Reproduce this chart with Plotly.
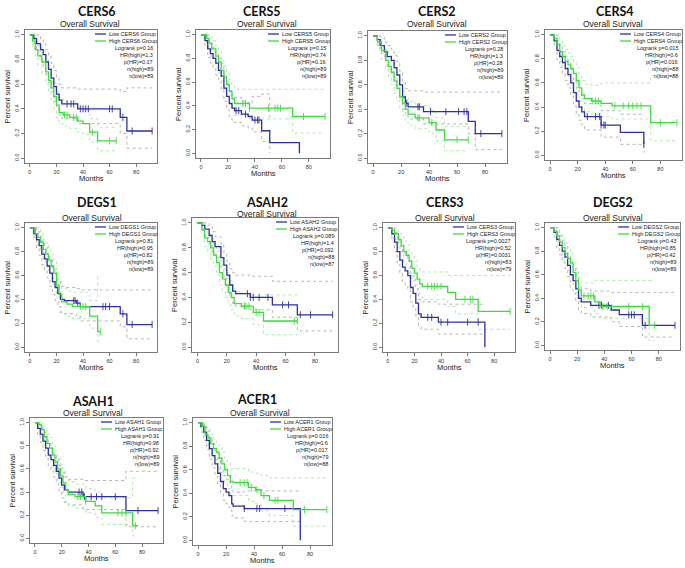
import plotly.graph_objects as go

# ---------------- data ----------------
GENES = ["CERS6", "CERS5", "CERS2", "CERS4", "DEGS1", "ASAH2", "CERS3", "DEGS2", "ASAH1", "ACER1"]
LOGRANK_P = ["0.16", "0.15", "0.28", "0.015", "0.81", "0.089", "0.0027", "0.43", "0.91", "0.016"]
HR_HIGH = ["1.3", "0.74", "1.3", "0.6", "0.95", "1.4", "0.52", "0.85", "0.98", "0.6"]
P_HR = ["0.17", "0.16", "0.28", "0.016", "0.82", "0.092", "0.0031", "0.42", "0.92", "0.017"]
N_HIGH = [89, 89, 89, 88, 89, 88, 83, 89, 89, 79]
N_LOW = [89, 89, 89, 88, 89, 87, 79, 89, 89, 88]
X_TICKS = [0, 20, 40, 60, 80]
Y_TICKS = [0.0, 0.2, 0.4, 0.6, 0.8, 1.0]
Y_TICK_TEXT = ["0.0", "0.2", "0.4", "0.6", "0.8", "1.0"]

# CERS6
CERS6_LOW_T = [0, 3, 5, 8, 10, 12, 14, 16, 18, 20, 22, 24, 36, 68, 73, 92]
CERS6_LOW_S = [1, .97, .93, .88, .84, .78, .72, .65, .58, .52, .47, .44, .40, .33, .22, .22]
CERS6_LOW_HI = [1, 1, 1, .96, .93, .88, .83, .77, .71, .65, .60, .57, .56, .54, .57, .57]
CERS6_LOW_LO = [1, .93, .87, .80, .75, .68, .61, .54, .46, .40, .35, .32, .28, .20, .08, .08]
CERS6_LOW_CENS = [28, 31, 33, 38, 40, 42, 44, 60, 62, 70, 77, 92]
CERS6_HIGH_T = [0, 2, 4, 6, 9, 12, 14, 16, 18, 20, 22, 25, 30, 36, 40, 45, 51, 65]
CERS6_HIGH_S = [1, .95, .88, .83, .78, .70, .63, .57, .50, .43, .37, .35, .33, .30, .28, .21, .14, .14]
CERS6_HIGH_HI = [1, 1, .95, .91, .87, .80, .74, .68, .61, .54, .48, .46, .44, .41, .39, .32, .25, .25]
CERS6_HIGH_LO = [1, .90, .81, .75, .69, .60, .53, .47, .40, .33, .28, .26, .24, .21, .19, .13, .06, .06]
CERS6_HIGH_CENS = [26, 28, 33, 35, 47, 60, 65]

# CERS5
CERS5_LOW_T = [0, 3, 5, 7, 9, 11, 13, 15, 17, 19, 21, 23, 25, 30, 35, 38, 45, 51, 73]
CERS5_LOW_S = [1, .95, .88, .84, .80, .76, .70, .65, .55, .48, .42, .38, .36, .33, .31, .28, .19, .09, 0]
CERS5_LOW_HI = [1, 1, .95, .92, .89, .85, .80, .76, .66, .59, .53, .49, .47, .44, .42, .48, .50, .30, None]
CERS5_LOW_LO = [1, .90, .81, .76, .71, .66, .60, .54, .44, .37, .31, .28, .26, .23, .21, .18, .10, 0.0, None]
CERS5_LOW_CENS = [26, 28, 33, 40, 42, 43]
CERS5_HIGH_T = [0, 4, 6, 8, 11, 13, 15, 17, 19, 21, 23, 25, 36, 68, 92]
CERS5_HIGH_S = [1, .97, .93, .88, .82, .77, .70, .64, .58, .52, .46, .42, .38, .31, .31]
CERS5_HIGH_HI = [1, 1, 1, .95, .90, .86, .79, .74, .68, .62, .57, .54, .54, .54, .54]
CERS5_HIGH_LO = [1, .93, .87, .81, .74, .68, .61, .54, .48, .42, .36, .32, .29, .17, .17]
CERS5_HIGH_CENS = [31, 33, 36, 50, 55, 57, 59, 76, 92]

# CERS2
CERS2_LOW_T = [0, 3, 5, 8, 10, 13, 15, 17, 19, 21, 23, 25, 36, 68, 73, 92]
CERS2_LOW_S = [1, .97, .92, .87, .83, .80, .74, .68, .60, .50, .45, .42, .38, .30, .20, .20]
CERS2_LOW_HI = [1, 1, .99, .95, .92, .89, .84, .79, .71, .62, .57, .55, .54, .54, .54, .54]
CERS2_LOW_LO = [1, .93, .86, .80, .75, .71, .65, .58, .50, .40, .35, .32, .28, .20, .07, .07]
CERS2_LOW_CENS = [24, 32, 33, 41, 52, 61, 65, 67, 77, 92]
CERS2_HIGH_T = [0, 3, 6, 9, 11, 13, 15, 17, 19, 21, 23, 25, 30, 40, 45, 51, 68]
CERS2_HIGH_S = [1, .95, .88, .80, .75, .70, .63, .57, .50, .45, .40, .36, .33, .29, .23, .15, .15]
CERS2_HIGH_HI = [1, 1, .95, .88, .84, .79, .73, .67, .60, .55, .50, .46, .43, .39, .33, .26, .26]
CERS2_HIGH_LO = [1, .90, .81, .72, .66, .60, .53, .47, .40, .35, .30, .27, .24, .20, .14, .06, .06]
CERS2_HIGH_CENS = [32, 33, 42, 60, 68]

# CERS4
CERS4_LOW_T = [0, 3, 5, 7, 9, 11, 13, 15, 17, 19, 21, 23, 25, 37, 51, 68]
CERS4_LOW_S = [1, .95, .87, .82, .77, .72, .67, .60, .52, .45, .40, .36, .32, .25, .19, .09]
CERS4_LOW_HI = [1, 1, .95, .91, .86, .82, .77, .71, .63, .56, .51, .47, .43, .37, .34, .33]
CERS4_LOW_LO = [1, .90, .79, .73, .67, .62, .56, .49, .41, .34, .29, .25, .21, .15, .09, .02]
CERS4_LOW_CENS = [27, 33, 36, 37, 39, 40, 68]
CERS4_HIGH_T = [0, 3, 5, 7, 9, 11, 13, 15, 17, 19, 21, 23, 25, 30, 37, 45, 73, 92]
CERS4_HIGH_S = [1, .97, .92, .86, .82, .78, .75, .72, .68, .62, .56, .50, .47, .45, .43, .41, .27, .27]
CERS4_HIGH_HI = [1, 1, 1, .95, .91, .88, .85, .82, .78, .73, .67, .62, .59, .58, .60, .60, .66, .66]
CERS4_HIGH_LO = [1, .93, .86, .78, .73, .68, .65, .62, .57, .51, .45, .39, .36, .34, .32, .30, .12, .12]
CERS4_HIGH_CENS = [31, 33, 35, 47, 53, 57, 60, 63, 66, 80, 92]

# DEGS1
DEGS1_LOW_T = [0, 3, 5, 7, 9, 11, 13, 15, 17, 19, 21, 23, 26, 35, 38, 68, 73, 92]
DEGS1_LOW_S = [1, .95, .90, .85, .78, .74, .68, .62, .55, .50, .45, .40, .39, .37, .34, .28, .19, .19]
DEGS1_LOW_HI = [1, 1, .97, .93, .87, .84, .78, .73, .66, .61, .56, .51, .50, .49, .48, .48, .48, .48]
DEGS1_LOW_LO = [1, .90, .83, .77, .69, .64, .58, .51, .44, .39, .34, .29, .28, .26, .22, .17, .07, .07]
DEGS1_LOW_CENS = [33, 34, 36, 55, 57, 60, 70, 77, 92]
DEGS1_HIGH_T = [0, 4, 6, 8, 10, 12, 14, 16, 18, 20, 22, 24, 28, 32, 45, 51, 53]
DEGS1_HIGH_S = [1, .95, .92, .88, .82, .78, .73, .68, .62, .52, .44, .38, .36, .34, .26, .13, .13]
DEGS1_HIGH_HI = [1, 1, 1, .95, .90, .87, .82, .78, .72, .62, .55, .49, .47, .46, .39, .60, .60]
DEGS1_HIGH_LO = [1, .91, .86, .81, .74, .69, .64, .58, .52, .42, .34, .28, .26, .24, .16, .05, .05]
DEGS1_HIGH_CENS = [38, 40, 42, 53]

# ASAH2
ASAH2_LOW_T = [0, 3, 5, 8, 10, 12, 16, 18, 20, 22, 24, 26, 36, 51, 68, 92]
ASAH2_LOW_S = [1, .98, .95, .90, .85, .81, .72, .66, .58, .50, .45, .43, .40, .34, .26, .26]
ASAH2_LOW_HI = [1, 1, 1, .97, .93, .89, .82, .76, .69, .63, .60, .58, .57, .53, .53, .53]
ASAH2_LOW_LO = [1, .94, .90, .83, .77, .72, .63, .56, .48, .40, .35, .33, .30, .24, .13, .13]
ASAH2_LOW_CENS = [34, 36, 38, 42, 48, 58, 62, 70, 77, 92]
ASAH2_HIGH_T = [0, 3, 5, 7, 9, 11, 13, 15, 17, 19, 21, 23, 25, 30, 38, 45, 68]
ASAH2_HIGH_S = [1, .95, .88, .85, .80, .74, .68, .60, .55, .50, .44, .40, .35, .33, .28, .21, .21]
ASAH2_HIGH_HI = [1, 1, .95, .92, .88, .83, .77, .70, .65, .60, .54, .50, .45, .43, .40, .42, .42]
ASAH2_HIGH_LO = [1, .90, .81, .77, .71, .65, .58, .50, .45, .40, .34, .30, .25, .23, .18, .10, .10]
ASAH2_HIGH_CENS = [32, 33, 35, 40, 42, 66, 68]

# CERS3
CERS3_LOW_T = [0, 3, 5, 7, 9, 11, 13, 15, 17, 19, 21, 23, 25, 38, 73]
CERS3_LOW_S = [1, .95, .88, .80, .73, .67, .64, .60, .50, .45, .37, .28, .25, .21, 0]
CERS3_LOW_HI = [1, 1, .96, .90, .84, .79, .76, .72, .62, .57, .49, .40, .38, .36, .36]
CERS3_LOW_LO = [1, .90, .80, .70, .62, .55, .52, .48, .38, .33, .26, .18, .15, .11, .11]
CERS3_LOW_CENS = [30, 33, 40, 45, 60, 68]
CERS3_HIGH_T = [0, 3, 5, 8, 10, 12, 14, 16, 18, 20, 22, 24, 26, 45, 51, 68, 92]
CERS3_HIGH_S = [1, .98, .95, .90, .85, .80, .77, .72, .66, .62, .57, .53, .51, .46, .40, .30, .30]
CERS3_HIGH_HI = [1, 1, 1, .97, .93, .89, .86, .81, .76, .72, .67, .64, .63, .60, .60, .60, .60]
CERS3_HIGH_LO = [1, .95, .90, .83, .77, .71, .67, .62, .56, .51, .46, .42, .40, .34, .28, .15, .15]
CERS3_HIGH_CENS = [30, 33, 35, 37, 40, 58, 62, 64, 92]

# DEGS2
DEGS2_LOW_T = [0, 3, 5, 7, 9, 11, 13, 15, 17, 19, 21, 23, 30, 45, 51, 68, 92]
DEGS2_LOW_S = [1, .96, .90, .85, .80, .75, .68, .60, .55, .48, .40, .37, .34, .30, .26, .17, .17]
DEGS2_LOW_HI = [1, 1, .97, .93, .89, .85, .78, .71, .66, .59, .51, .48, .46, .45, .45, .45, .45]
DEGS2_LOW_LO = [1, .92, .83, .77, .71, .65, .58, .49, .44, .37, .30, .27, .24, .20, .16, .07, .07]
DEGS2_LOW_CENS = [36, 38, 43, 58, 60, 62, 70, 92]
DEGS2_HIGH_T = [0, 3, 5, 7, 9, 11, 13, 15, 17, 19, 21, 23, 33, 37, 73, 77]
DEGS2_HIGH_S = [1, .97, .93, .88, .83, .78, .74, .70, .62, .55, .47, .42, .37, .33, .17, .17]
DEGS2_HIGH_HI = [1, 1, 1, .95, .91, .87, .83, .79, .72, .65, .58, .53, .55, .55, .55, .55]
DEGS2_HIGH_LO = [1, .94, .87, .80, .74, .68, .64, .60, .52, .45, .37, .32, .27, .23, .04, .04]
DEGS2_HIGH_CENS = [25, 28, 30, 32, 39, 42, 58, 68, 77]

# ASAH1
ASAH1_LOW_T = [0, 2, 4, 6, 8, 10, 12, 14, 16, 18, 20, 22, 25, 36, 68, 92]
ASAH1_LOW_S = [1, .95, .90, .84, .78, .72, .68, .63, .58, .52, .46, .42, .40, .36, .24, .24]
ASAH1_LOW_HI = [1, 1, .97, .92, .87, .82, .78, .73, .68, .63, .57, .53, .51, .50, .58, .58]
ASAH1_LOW_LO = [1, .90, .83, .76, .69, .62, .58, .53, .47, .41, .35, .31, .29, .25, .10, .10]
ASAH1_LOW_CENS = [33, 35, 37, 42, 46, 50, 60, 77, 92]
ASAH1_HIGH_T = [0, 3, 5, 7, 9, 11, 13, 15, 17, 19, 21, 23, 25, 30, 38, 45, 50, 73, 77]
ASAH1_HIGH_S = [1, .98, .94, .88, .82, .78, .72, .66, .60, .54, .48, .42, .38, .36, .32, .28, .22, .11, .11]
ASAH1_HIGH_HI = [1, 1, 1, .95, .90, .87, .81, .76, .70, .64, .58, .53, .49, .47, .43, .40, .35, .52, .52]
ASAH1_HIGH_LO = [1, .95, .89, .81, .74, .69, .62, .56, .50, .44, .38, .32, .28, .26, .22, .18, .12, .02, .02]
ASAH1_HIGH_CENS = [32, 34, 38, 62, 65, 68, 75]

# ACER1
ACER1_LOW_T = [0, 2, 4, 6, 8, 10, 12, 14, 16, 18, 20, 22, 24, 25, 33, 73]
ACER1_LOW_S = [1, .97, .92, .85, .78, .72, .65, .57, .50, .44, .41, .38, .31, .29, .27, 0]
ACER1_LOW_HI = [1, 1, .98, .93, .87, .82, .75, .68, .61, .55, .52, .49, .42, .41, .42, .42]
ACER1_LOW_LO = [1, .92, .85, .77, .69, .62, .55, .47, .40, .34, .31, .28, .21, .19, .16, .16]
ACER1_LOW_CENS = [33, 42, 44, 62]
ACER1_HIGH_T = [0, 3, 5, 7, 9, 11, 13, 15, 17, 19, 21, 23, 25, 36, 41, 45, 51, 68, 92]
ACER1_HIGH_S = [1, .97, .90, .87, .82, .78, .75, .70, .65, .60, .55, .50, .49, .45, .43, .38, .34, .26, .26]
ACER1_HIGH_HI = [1, 1, .96, .94, .90, .86, .83, .79, .75, .70, .66, .61, .61, .58, .57, .55, .53, .53, .53]
ACER1_HIGH_LO = [1, .93, .84, .80, .74, .69, .66, .60, .55, .50, .44, .39, .38, .33, .31, .25, .21, .12, .12]
ACER1_HIGH_CENS = [30, 33, 35, 38, 42, 47, 55, 57, 76, 92]

CURVES = {
    "CERS6": ((CERS6_LOW_T, CERS6_LOW_S, CERS6_LOW_LO, CERS6_LOW_HI, CERS6_LOW_CENS),
              (CERS6_HIGH_T, CERS6_HIGH_S, CERS6_HIGH_LO, CERS6_HIGH_HI, CERS6_HIGH_CENS)),
    "CERS5": ((CERS5_LOW_T, CERS5_LOW_S, CERS5_LOW_LO, CERS5_LOW_HI, CERS5_LOW_CENS),
              (CERS5_HIGH_T, CERS5_HIGH_S, CERS5_HIGH_LO, CERS5_HIGH_HI, CERS5_HIGH_CENS)),
    "CERS2": ((CERS2_LOW_T, CERS2_LOW_S, CERS2_LOW_LO, CERS2_LOW_HI, CERS2_LOW_CENS),
              (CERS2_HIGH_T, CERS2_HIGH_S, CERS2_HIGH_LO, CERS2_HIGH_HI, CERS2_HIGH_CENS)),
    "CERS4": ((CERS4_LOW_T, CERS4_LOW_S, CERS4_LOW_LO, CERS4_LOW_HI, CERS4_LOW_CENS),
              (CERS4_HIGH_T, CERS4_HIGH_S, CERS4_HIGH_LO, CERS4_HIGH_HI, CERS4_HIGH_CENS)),
    "DEGS1": ((DEGS1_LOW_T, DEGS1_LOW_S, DEGS1_LOW_LO, DEGS1_LOW_HI, DEGS1_LOW_CENS),
              (DEGS1_HIGH_T, DEGS1_HIGH_S, DEGS1_HIGH_LO, DEGS1_HIGH_HI, DEGS1_HIGH_CENS)),
    "ASAH2": ((ASAH2_LOW_T, ASAH2_LOW_S, ASAH2_LOW_LO, ASAH2_LOW_HI, ASAH2_LOW_CENS),
              (ASAH2_HIGH_T, ASAH2_HIGH_S, ASAH2_HIGH_LO, ASAH2_HIGH_HI, ASAH2_HIGH_CENS)),
    "CERS3": ((CERS3_LOW_T, CERS3_LOW_S, CERS3_LOW_LO, CERS3_LOW_HI, CERS3_LOW_CENS),
              (CERS3_HIGH_T, CERS3_HIGH_S, CERS3_HIGH_LO, CERS3_HIGH_HI, CERS3_HIGH_CENS)),
    "DEGS2": ((DEGS2_LOW_T, DEGS2_LOW_S, DEGS2_LOW_LO, DEGS2_LOW_HI, DEGS2_LOW_CENS),
              (DEGS2_HIGH_T, DEGS2_HIGH_S, DEGS2_HIGH_LO, DEGS2_HIGH_HI, DEGS2_HIGH_CENS)),
    "ASAH1": ((ASAH1_LOW_T, ASAH1_LOW_S, ASAH1_LOW_LO, ASAH1_LOW_HI, ASAH1_LOW_CENS),
              (ASAH1_HIGH_T, ASAH1_HIGH_S, ASAH1_HIGH_LO, ASAH1_HIGH_HI, ASAH1_HIGH_CENS)),
    "ACER1": ((ACER1_LOW_T, ACER1_LOW_S, ACER1_LOW_LO, ACER1_LOW_HI, ACER1_LOW_CENS),
              (ACER1_HIGH_T, ACER1_HIGH_S, ACER1_HIGH_LO, ACER1_HIGH_HI, ACER1_HIGH_CENS)),
}

# ---------------- layout (pixels) ----------------
W, H = 685, 568
# plot frame: left, right, top, bottom
FRAMES = [
    (25, 157, 30, 163), (196, 330, 30, 158), (368, 507, 31, 163), (545, 682, 30, 160),
    (25, 157, 223, 352), (192, 338, 218, 352), (383, 515, 223, 352), (545, 680, 223, 350),
    (30, 163, 418, 543), (193, 332, 418, 545),
]
# gene title centre (x, y) and "Overall Survival" centre (x, y)
TITLE_POS = [(97, 12), (262, 12), (437, 11), (615, 11), (97, 202), (267, 202), (445, 202),
             (613, 202), (93, 401), (257, 399)]
SUB_POS = [(90, 24), (267, 24), (437, 24), (613, 24), (92, 218), (267, 214), (445, 218),
           (613, 218), (93, 413), (260, 413)]

BLUE = "#2f2fa3"
GREEN = "#3ddc3d"
BLUE_CI = "#a3a3a8"
GREEN_CI = "#9ee59e"
AX = "#7a7a7a"
FONT = "Liberation Sans"


def fx(x):
    return x / W


def fy(y):
    return 1 - y / H


def step_at(ts, ss, c):
    val = ss[0]
    for t, s in zip(ts, ss):
        if t <= c:
            val = s
    return val


fig = go.Figure()
annotations = []
shapes = []
layout = {}

for i, gene in enumerate(GENES):
    k = i + 1
    xa = "x" if k == 1 else f"x{k}"
    ya = "y" if k == 1 else f"y{k}"
    l, r, t, b = FRAMES[i]
    layout[f"xaxis{k}" if k > 1 else "xaxis"] = dict(
        domain=[fx(l), fx(r)], anchor=ya, range=[-3.68, 95.68],
        tickvals=X_TICKS, ticks="outside", ticklen=3, tickwidth=0.8, tickcolor=AX,
        showline=True, mirror=True, linecolor=AX, linewidth=1,
        showgrid=False, zeroline=False, tickfont=dict(family=FONT, size=5.5, color="#333"),
        fixedrange=True,
    )
    layout[f"yaxis{k}" if k > 1 else "yaxis"] = dict(
        domain=[fy(b), fy(t)], anchor=xa, range=[-0.04, 1.04],
        tickvals=Y_TICKS, ticktext=Y_TICK_TEXT, tickangle=-90,
        ticks="outside", ticklen=3, tickwidth=0.8, tickcolor=AX,
        showline=True, mirror=True, linecolor=AX, linewidth=1,
        showgrid=False, zeroline=False, tickfont=dict(family=FONT, size=5.5, color="#333"),
        fixedrange=True,
    )

    low, high = CURVES[gene]
    for (ts, ss, lo, hi, cens), cicol in ((low, BLUE_CI), (high, GREEN_CI)):
        for ci in (lo, hi):
            fig.add_trace(go.Scatter(
                x=ts, y=ci, xaxis=xa, yaxis=ya, mode="lines", line_shape="hv",
                line=dict(color=cicol, width=0.8, dash="dot"), showlegend=False,
                hoverinfo="skip"))
    for (ts, ss, lo, hi, cens), col in ((low, BLUE), (high, GREEN)):
        fig.add_trace(go.Scatter(
            x=ts, y=ss, xaxis=xa, yaxis=ya, mode="lines", line_shape="hv",
            line=dict(color=col, width=1.3), showlegend=False))
        fig.add_trace(go.Scatter(
            x=cens, y=[step_at(ts, ss, c) for c in cens], xaxis=xa, yaxis=ya,
            mode="markers", marker=dict(symbol="line-ns-open", size=5, color=col,
                                        line=dict(color=col, width=0.9)),
            showlegend=False))

    # titles
    tx, tyy = TITLE_POS[i]
    annotations.append(dict(text=f"<b>{gene}</b>", x=fx(tx), y=fy(tyy), xref="paper", yref="paper",
                            showarrow=False, xanchor="center", yanchor="middle",
                            font=dict(family="Lato", size=12.5, color="#111")))
    sx, sy = SUB_POS[i]
    annotations.append(dict(text="Overall Survival", x=fx(sx), y=fy(sy), xref="paper", yref="paper",
                            showarrow=False, xanchor="center", yanchor="middle",
                            font=dict(family=FONT, size=8.5, color="#222")))
    # axis titles
    annotations.append(dict(text="Months", x=fx((l + r) / 2), y=fy(b + 15), xref="paper", yref="paper",
                            showarrow=False, xanchor="center", yanchor="middle",
                            font=dict(family=FONT, size=7.5, color="#222")))
    annotations.append(dict(text="Percent survival", x=fx(l - 18), y=fy((t + b) / 2), xref="paper",
                            yref="paper", showarrow=False, xanchor="center", yanchor="middle",
                            textangle=-90, font=dict(family=FONT, size=7.5, color="#222")))
    # legend
    labels = [f"Low {gene} Group", f"High {gene} Group"]
    for j, (lab, col) in enumerate(zip(labels, (BLUE, GREEN))):
        yy = t + 4 + 7 * j
        shapes.append(dict(type="line", xref="paper", yref="paper", x0=fx(r - 62), x1=fx(r - 51),
                           y0=fy(yy), y1=fy(yy), line=dict(color=col, width=1.3)))
        annotations.append(dict(text=lab, x=fx(r - 50), y=fy(yy), xref="paper", yref="paper",
                                showarrow=False, xanchor="left", yanchor="middle",
                                font=dict(family=FONT, size=5.5, color="#222")))
    stats = [f"Logrank p={LOGRANK_P[i]}", f"HR(high)={HR_HIGH[i]}", f"p(HR)={P_HR[i]}",
             f"n(high)={N_HIGH[i]}", f"n(low)={N_LOW[i]}"]
    for j, st in enumerate(stats):
        yy = t + 18 + 7 * j
        annotations.append(dict(text=st, x=fx(r - 2), y=fy(yy), xref="paper", yref="paper",
                                showarrow=False, xanchor="right", yanchor="middle",
                                font=dict(family=FONT, size=5.5, color="#222")))

fig.update_layout(
    width=W, height=H, autosize=False,
    margin=dict(l=0, r=0, t=0, b=0),
    paper_bgcolor="white", plot_bgcolor="white",
    showlegend=False, annotations=annotations, shapes=shapes,
    **layout,
)

fig.write_html("out.html", config={"displayModeBar": False},
               post_script="document.body.style.margin='0px';")
